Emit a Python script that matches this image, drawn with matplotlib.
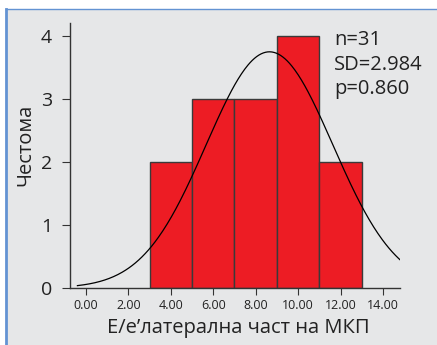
import matplotlib
matplotlib.use("Agg")
import matplotlib.pyplot as plt
from matplotlib.patches import Rectangle
from matplotlib.lines import Line2D
import numpy as np

plt.rcParams['font.family'] = ['Open Sans', 'DejaVu Sans']

# histogram data
bin_edges = [3.0, 5.0, 7.0, 9.0, 11.0, 13.0]
counts = [2, 3, 3, 4, 2]

# normal curve parameters
curve_mean = 8.65
curve_sd = 2.984
curve_n = sum(counts)
curve_from, curve_to = -0.4, 15.0

x_ticks = [0, 2, 4, 6, 8, 10, 12, 14]
x_ticklabels = ["0.00", "2.00", "4.00", "6.00", "8.00", "10.00", "12.00", "14.00"]
y_ticks = [0, 1, 2, 3, 4]

stats_text = ["n=31", "SD=2.984", "p=0.860"]

bg = "#e6e7e8"
blue = "#6393d3"
txt = "#222222"

W, H = 437, 345
fig = plt.figure(figsize=(W / 100, H / 100), dpi=100)
fig.patch.set_facecolor("white")

# gray panel with blue border on left and top
fig.patches.append(Rectangle((6 / W, 0), 1, (H - 9) / H, transform=fig.transFigure,
                             facecolor=bg, edgecolor="none", zorder=-10))
fig.lines.append(Line2D([5.5 / W, 5.5 / W], [0, (H - 8.5) / H], transform=fig.transFigure,
                        color=blue, lw=2, zorder=-5))
fig.lines.append(Line2D([5.5 / W, 1], [(H - 8.5) / H, (H - 8.5) / H], transform=fig.transFigure,
                        color=blue, lw=1, zorder=-5))

ax = fig.add_axes([70 / W, (H - 288) / H, 330 / W, 265 / H])
ax.patch.set_alpha(0)

widths = np.diff(bin_edges)
ax.bar(bin_edges[:-1], counts, width=widths, align="edge", color="#ed1c24",
       edgecolor="#3a3a3a", linewidth=1, zorder=2)

# fitted normal curve
xs = np.linspace(curve_from, curve_to, 300)
bw = widths[0]
ys = curve_n * bw / (curve_sd * np.sqrt(2 * np.pi)) * np.exp(-0.5 * ((xs - curve_mean) / curve_sd) ** 2)
ax.plot(xs, ys, color="black", lw=0.9, zorder=3)

ax.set_xlim(-0.75, 14.8)
ax.set_ylim(0, 4.2)
ax.set_xticks(x_ticks)
ax.set_xticklabels(x_ticklabels, fontsize=9)
ax.set_yticks(y_ticks)
ax.tick_params(axis="y", labelsize=14, length=6, color="#333333", pad=7, labelcolor=txt)
ax.tick_params(axis="x", length=5, color="#333333", pad=3, labelcolor=txt)

for s in ["top", "right"]:
    ax.spines[s].set_visible(False)
for s in ["left", "bottom"]:
    ax.spines[s].set_color("#333333")
    ax.spines[s].set_linewidth(1)

ax.set_xlabel("E/e’латерална част на МКП", fontsize=14.5, color=txt, va="center")
ax.xaxis.set_label_coords(0.509, -0.152)
ax.set_ylabel("Честома", fontsize=14.5, color=txt, va="center")
ax.yaxis.set_label_coords(-0.136, 0.54)

for i, t in enumerate(stats_text):
    fig.text(334 / W, (H - 40 - 24.5 * i) / H, t, fontsize=14.5, va="center", ha="left",
             color=txt)

fig.savefig("out.png", dpi=100, facecolor=fig.get_facecolor())
